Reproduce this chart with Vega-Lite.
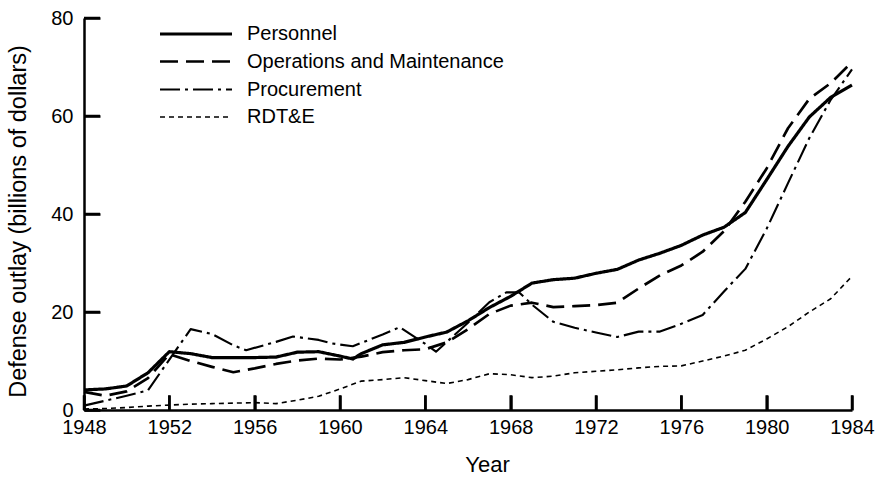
{
  "$schema": "https://vega.github.io/schema/vega-lite/v6.json",
  "width": 768,
  "height": 392,
  "autosize": "none",
  "padding": {"left": 84, "top": 18, "right": 27, "bottom": 67},
  "background": "white",
  "config": {
    "view": {"stroke": null},
    "font": "Liberation Sans",
    "axis": {"grid": false, "domainColor": "black", "domainWidth": 2.5, "ticks": true, "tickColor": "black", "tickWidth": 2.5, "labelColor": "black", "titleColor": "black", "labelFont": "Liberation Sans", "titleFont": "Liberation Sans", "labelFontSize": 20, "titleFontSize": 22, "titleFontWeight": "normal"},
    "legend": {"labelFont": "Liberation Sans", "labelFontSize": 20, "labelColor": "black"}
  },
  "datasets": {
    "outlays": [
      {"series": "Personnel", "year": 1948, "outlay": 4.1},
      {"series": "Personnel", "year": 1949, "outlay": 4.3},
      {"series": "Personnel", "year": 1950, "outlay": 4.9},
      {"series": "Personnel", "year": 1951, "outlay": 7.6},
      {"series": "Personnel", "year": 1952, "outlay": 11.9},
      {"series": "Personnel", "year": 1953, "outlay": 11.5},
      {"series": "Personnel", "year": 1954, "outlay": 10.7},
      {"series": "Personnel", "year": 1955, "outlay": 10.7},
      {"series": "Personnel", "year": 1956, "outlay": 10.7},
      {"series": "Personnel", "year": 1957, "outlay": 10.8},
      {"series": "Personnel", "year": 1958, "outlay": 11.8},
      {"series": "Personnel", "year": 1959, "outlay": 11.9},
      {"series": "Personnel", "year": 1960, "outlay": 11.0},
      {"series": "Personnel", "year": 1960.6, "outlay": 10.4},
      {"series": "Personnel", "year": 1961, "outlay": 11.5},
      {"series": "Personnel", "year": 1962, "outlay": 13.3},
      {"series": "Personnel", "year": 1963, "outlay": 13.8},
      {"series": "Personnel", "year": 1964, "outlay": 14.9},
      {"series": "Personnel", "year": 1965, "outlay": 15.9},
      {"series": "Personnel", "year": 1966, "outlay": 18.2},
      {"series": "Personnel", "year": 1967, "outlay": 20.9},
      {"series": "Personnel", "year": 1968, "outlay": 23.2},
      {"series": "Personnel", "year": 1969, "outlay": 25.9},
      {"series": "Personnel", "year": 1970, "outlay": 26.6},
      {"series": "Personnel", "year": 1971, "outlay": 26.9},
      {"series": "Personnel", "year": 1972, "outlay": 27.9},
      {"series": "Personnel", "year": 1973, "outlay": 28.7},
      {"series": "Personnel", "year": 1974, "outlay": 30.6},
      {"series": "Personnel", "year": 1975, "outlay": 32.0},
      {"series": "Personnel", "year": 1976, "outlay": 33.6},
      {"series": "Personnel", "year": 1977, "outlay": 35.7},
      {"series": "Personnel", "year": 1978, "outlay": 37.3},
      {"series": "Personnel", "year": 1979, "outlay": 40.3},
      {"series": "Personnel", "year": 1980, "outlay": 47.0},
      {"series": "Personnel", "year": 1981, "outlay": 53.8},
      {"series": "Personnel", "year": 1982, "outlay": 59.8},
      {"series": "Personnel", "year": 1983, "outlay": 63.8},
      {"series": "Personnel", "year": 1984, "outlay": 66.3},

      {"series": "Operations and Maintenance", "year": 1948, "outlay": 3.7},
      {"series": "Operations and Maintenance", "year": 1949, "outlay": 2.9},
      {"series": "Operations and Maintenance", "year": 1950, "outlay": 3.8},
      {"series": "Operations and Maintenance", "year": 1951, "outlay": 6.5},
      {"series": "Operations and Maintenance", "year": 1952, "outlay": 11.4},
      {"series": "Operations and Maintenance", "year": 1953, "outlay": 10.0},
      {"series": "Operations and Maintenance", "year": 1954, "outlay": 8.8},
      {"series": "Operations and Maintenance", "year": 1955, "outlay": 7.7},
      {"series": "Operations and Maintenance", "year": 1956, "outlay": 8.5},
      {"series": "Operations and Maintenance", "year": 1957, "outlay": 9.4},
      {"series": "Operations and Maintenance", "year": 1958, "outlay": 10.1},
      {"series": "Operations and Maintenance", "year": 1959, "outlay": 10.5},
      {"series": "Operations and Maintenance", "year": 1960, "outlay": 10.3},
      {"series": "Operations and Maintenance", "year": 1961, "outlay": 10.9},
      {"series": "Operations and Maintenance", "year": 1962, "outlay": 11.8},
      {"series": "Operations and Maintenance", "year": 1963, "outlay": 12.2},
      {"series": "Operations and Maintenance", "year": 1964, "outlay": 12.4},
      {"series": "Operations and Maintenance", "year": 1965, "outlay": 13.8},
      {"series": "Operations and Maintenance", "year": 1966, "outlay": 16.5},
      {"series": "Operations and Maintenance", "year": 1967, "outlay": 19.6},
      {"series": "Operations and Maintenance", "year": 1968, "outlay": 21.3},
      {"series": "Operations and Maintenance", "year": 1969, "outlay": 21.9},
      {"series": "Operations and Maintenance", "year": 1970, "outlay": 21.0},
      {"series": "Operations and Maintenance", "year": 1971, "outlay": 21.2},
      {"series": "Operations and Maintenance", "year": 1972, "outlay": 21.4},
      {"series": "Operations and Maintenance", "year": 1973, "outlay": 21.9},
      {"series": "Operations and Maintenance", "year": 1974, "outlay": 24.8},
      {"series": "Operations and Maintenance", "year": 1975, "outlay": 27.5},
      {"series": "Operations and Maintenance", "year": 1976, "outlay": 29.5},
      {"series": "Operations and Maintenance", "year": 1977, "outlay": 32.3},
      {"series": "Operations and Maintenance", "year": 1978, "outlay": 36.5},
      {"series": "Operations and Maintenance", "year": 1979, "outlay": 42.5},
      {"series": "Operations and Maintenance", "year": 1980, "outlay": 49.3},
      {"series": "Operations and Maintenance", "year": 1981, "outlay": 57.5},
      {"series": "Operations and Maintenance", "year": 1982, "outlay": 63.5},
      {"series": "Operations and Maintenance", "year": 1983, "outlay": 66.7},
      {"series": "Operations and Maintenance", "year": 1984, "outlay": 71.0},

      {"series": "Procurement", "year": 1948, "outlay": 0.9},
      {"series": "Procurement", "year": 1949, "outlay": 1.9},
      {"series": "Procurement", "year": 1950, "outlay": 2.9},
      {"series": "Procurement", "year": 1951, "outlay": 4.0},
      {"series": "Procurement", "year": 1952, "outlay": 10.3},
      {"series": "Procurement", "year": 1953, "outlay": 16.5},
      {"series": "Procurement", "year": 1954, "outlay": 15.5},
      {"series": "Procurement", "year": 1955, "outlay": 13.2},
      {"series": "Procurement", "year": 1955.6, "outlay": 12.2},
      {"series": "Procurement", "year": 1957, "outlay": 13.9},
      {"series": "Procurement", "year": 1957.8, "outlay": 15.0},
      {"series": "Procurement", "year": 1959, "outlay": 14.3},
      {"series": "Procurement", "year": 1959.6, "outlay": 13.6},
      {"series": "Procurement", "year": 1960.6, "outlay": 13.0},
      {"series": "Procurement", "year": 1962, "outlay": 15.4},
      {"series": "Procurement", "year": 1962.8, "outlay": 16.9},
      {"series": "Procurement", "year": 1964, "outlay": 13.5},
      {"series": "Procurement", "year": 1964.5, "outlay": 11.9},
      {"series": "Procurement", "year": 1966, "outlay": 17.8},
      {"series": "Procurement", "year": 1967, "outlay": 22.0},
      {"series": "Procurement", "year": 1967.8, "outlay": 24.0},
      {"series": "Procurement", "year": 1968.4, "outlay": 24.0},
      {"series": "Procurement", "year": 1969, "outlay": 21.5},
      {"series": "Procurement", "year": 1970, "outlay": 18.0},
      {"series": "Procurement", "year": 1971, "outlay": 16.8},
      {"series": "Procurement", "year": 1972, "outlay": 15.8},
      {"series": "Procurement", "year": 1973, "outlay": 14.9},
      {"series": "Procurement", "year": 1974, "outlay": 16.0},
      {"series": "Procurement", "year": 1975, "outlay": 16.0},
      {"series": "Procurement", "year": 1976, "outlay": 17.6},
      {"series": "Procurement", "year": 1977, "outlay": 19.4},
      {"series": "Procurement", "year": 1978, "outlay": 24.2},
      {"series": "Procurement", "year": 1979, "outlay": 28.8},
      {"series": "Procurement", "year": 1980, "outlay": 37.0},
      {"series": "Procurement", "year": 1981, "outlay": 46.3},
      {"series": "Procurement", "year": 1982, "outlay": 55.5},
      {"series": "Procurement", "year": 1983, "outlay": 63.3},
      {"series": "Procurement", "year": 1984, "outlay": 69.5},

      {"series": "RDT&E", "year": 1948, "outlay": 0.2},
      {"series": "RDT&E", "year": 1949, "outlay": 0.3},
      {"series": "RDT&E", "year": 1950, "outlay": 0.5},
      {"series": "RDT&E", "year": 1951, "outlay": 0.8},
      {"series": "RDT&E", "year": 1952, "outlay": 1.0},
      {"series": "RDT&E", "year": 1953, "outlay": 1.2},
      {"series": "RDT&E", "year": 1954, "outlay": 1.3},
      {"series": "RDT&E", "year": 1955, "outlay": 1.4},
      {"series": "RDT&E", "year": 1956, "outlay": 1.5},
      {"series": "RDT&E", "year": 1957, "outlay": 1.3},
      {"series": "RDT&E", "year": 1958, "outlay": 2.0},
      {"series": "RDT&E", "year": 1959, "outlay": 2.8},
      {"series": "RDT&E", "year": 1960, "outlay": 4.3},
      {"series": "RDT&E", "year": 1961, "outlay": 5.9},
      {"series": "RDT&E", "year": 1962, "outlay": 6.2},
      {"series": "RDT&E", "year": 1963, "outlay": 6.6},
      {"series": "RDT&E", "year": 1964, "outlay": 6.0},
      {"series": "RDT&E", "year": 1965, "outlay": 5.4},
      {"series": "RDT&E", "year": 1966, "outlay": 6.2},
      {"series": "RDT&E", "year": 1967, "outlay": 7.4},
      {"series": "RDT&E", "year": 1968, "outlay": 7.2},
      {"series": "RDT&E", "year": 1969, "outlay": 6.6},
      {"series": "RDT&E", "year": 1970, "outlay": 6.9},
      {"series": "RDT&E", "year": 1971, "outlay": 7.6},
      {"series": "RDT&E", "year": 1972, "outlay": 7.9},
      {"series": "RDT&E", "year": 1973, "outlay": 8.2},
      {"series": "RDT&E", "year": 1974, "outlay": 8.6},
      {"series": "RDT&E", "year": 1975, "outlay": 8.9},
      {"series": "RDT&E", "year": 1976, "outlay": 9.0},
      {"series": "RDT&E", "year": 1977, "outlay": 10.0},
      {"series": "RDT&E", "year": 1978, "outlay": 11.0},
      {"series": "RDT&E", "year": 1979, "outlay": 12.2},
      {"series": "RDT&E", "year": 1980, "outlay": 14.5},
      {"series": "RDT&E", "year": 1981, "outlay": 17.0},
      {"series": "RDT&E", "year": 1982, "outlay": 20.0},
      {"series": "RDT&E", "year": 1983, "outlay": 22.7},
      {"series": "RDT&E", "year": 1984, "outlay": 27.3}
    ],
    "xticks": [
      {"year": 1948}, {"year": 1952}, {"year": 1956}, {"year": 1960}, {"year": 1964},
      {"year": 1968}, {"year": 1972}, {"year": 1976}, {"year": 1980}, {"year": 1984}
    ],
    "yticks": [
      {"outlay": 0}, {"outlay": 20}, {"outlay": 40}, {"outlay": 60}, {"outlay": 80}
    ]
  },
  "layer": [
    {
      "data": {"name": "outlays"},
      "mark": {"type": "line", "color": "black", "strokeJoin": "round", "strokeCap": "butt", "clip": false},
      "encoding": {
        "x": {
          "field": "year", "type": "quantitative",
          "scale": {"domain": [1948, 1984], "nice": false, "zero": false},
          "axis": {"values": [1948, 1952, 1956, 1960, 1964, 1968, 1972, 1976, 1980, 1984], "format": "d", "tickSize": -15, "labelPadding": 22, "labelFlush": false, "labelOverlap": false, "title": "Year", "titleX": 403, "titleY": 66, "titleBaseline": "bottom", "titleAlign": "center", "titleAnchor": null}
        },
        "y": {
          "field": "outlay", "type": "quantitative",
          "scale": {"domain": [0, 80], "nice": false},
          "axis": {"values": [0, 20, 40, 60, 80], "tickSize": -16, "labelPadding": 27, "title": "Defense outlay (billions of dollars)", "titleFontSize": 23.5, "titleX": -66, "titleY": 203, "titleBaseline": "middle", "titleAlign": "center", "titleAngle": -90, "titleAnchor": null}
        },
        "strokeDash": {
          "field": "series", "type": "nominal",
          "scale": {"domain": ["Personnel", "Operations and Maintenance", "Procurement", "RDT&E"], "range": [[1, 0], [18, 8], [20, 5, 3, 5], [5, 4]]},
          "legend": {"title": null, "orient": "none", "legendX": 98, "legendY": 2, "symbolType": "M-3,0H3", "symbolSize": 576, "symbolStrokeColor": "black", "symbolFillColor": "transparent", "labelOffset": 37, "labelLimit": 0, "rowPadding": 4, "padding": 0}
        },
        "strokeWidth": {
          "field": "series", "type": "nominal",
          "scale": {"domain": ["Personnel", "Operations and Maintenance", "Procurement", "RDT&E"], "range": [3.2, 1.6, 1.6, 1.6]},
          "legend": {"title": null, "orient": "none", "legendX": 98, "legendY": 2, "symbolType": "M-3,0H3", "symbolSize": 576, "symbolStrokeColor": "black", "symbolFillColor": "transparent", "labelOffset": 37, "labelLimit": 0, "rowPadding": 4, "padding": 0}
        }
      }
    },
    {
      "data": {"name": "xticks"},
      "mark": {"type": "rule", "color": "black", "strokeWidth": 2.5},
      "encoding": {
        "x": {"field": "year", "type": "quantitative"},
        "y": {"datum": 0},
        "y2": {"datum": 3.0}
      }
    },
    {
      "data": {"name": "yticks"},
      "mark": {"type": "rule", "color": "black", "strokeWidth": 2.5},
      "encoding": {
        "y": {"field": "outlay", "type": "quantitative"},
        "x": {"datum": 1948},
        "x2": {"datum": 1948.75}
      }
    }
  ]
}
